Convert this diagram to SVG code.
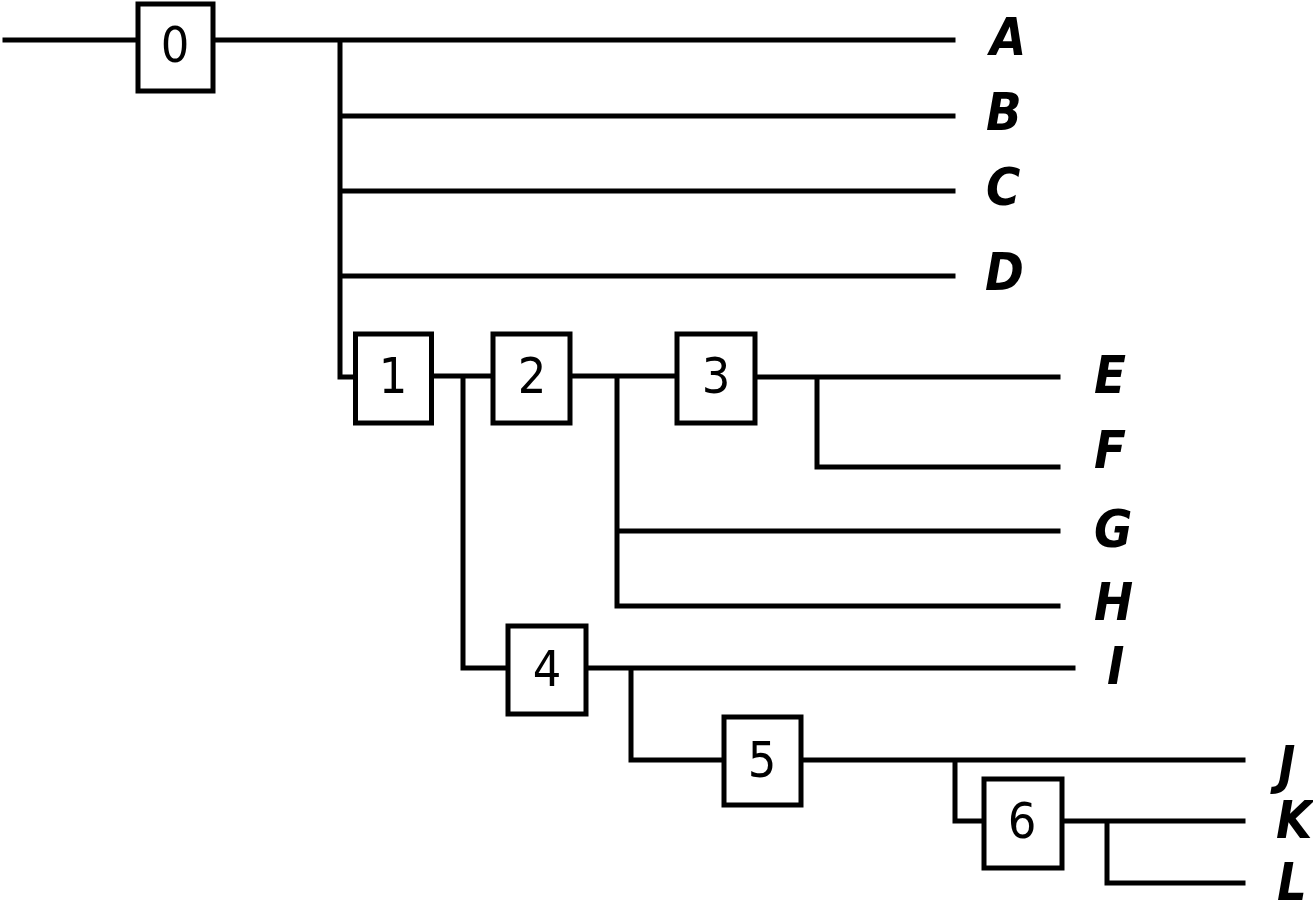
<svg xmlns="http://www.w3.org/2000/svg" width="1313" height="915" viewBox="0 0 1313 915">
<style>
.w{stroke:#000;stroke-width:5;fill:none;stroke-linecap:square}
.b{stroke:#000;stroke-width:5;fill:#fff}
.d{font-family:"DejaVu Sans Condensed","DejaVu Sans",sans-serif;font-stretch:condensed;font-size:50px;text-anchor:middle;fill:#000}
.l{font-family:"DejaVu Sans Condensed","DejaVu Sans",sans-serif;font-stretch:condensed;font-size:52px;font-weight:bold;font-style:italic;fill:#000}
</style>
<rect width="1313" height="915" fill="#fff"/>
<g id="connectors">
<path class="w" d="M5 40H138M213 40H953M340 40V377H355M340 116H953M340 191H953M340 276H953"/>
<path class="w" d="M432 376H493M463 380V668H507"/>
<path class="w" d="M571 376H677M617 378V606H1058M617 531H1058"/>
<path class="w" d="M755 377H1058M817 377V467H1058"/>
<path class="w" d="M587 668H1073M631 670V760H722"/>
<path class="w" d="M801 760H1243M955 760V821H983"/>
<path class="w" d="M1062 821H1243M1107 821V883H1243"/>
</g>
<g id="node0"><rect class="b" x="138" y="4" width="75" height="87"/><text class="d" x="175" y="62">0</text></g>
<g id="node1"><rect class="b" x="355.500" y="334" width="76" height="89"/><text class="d" x="393" y="393">1</text></g>
<g id="node2"><rect class="b" x="493" y="334" width="77" height="89"/><text class="d" x="532" y="393">2</text></g>
<g id="node3"><rect class="b" x="677" y="334" width="78" height="89"/><text class="d" x="716" y="393">3</text></g>
<g id="node4"><rect class="b" x="508" y="626" width="78" height="88"/><text class="d" x="547" y="686">4</text></g>
<g id="node5"><rect class="b" x="724" y="717" width="77" height="88"/><text class="d" x="762" y="777">5</text></g>
<g id="node6"><rect class="b" x="984" y="779" width="78" height="89"/><text class="d" x="1022" y="838">6</text></g>
<g id="labels">
<text class="l" x="990" y="55">A</text>
<text class="l" x="986" y="130">B</text>
<text class="l" x="986" y="205">C</text>
<text class="l" x="985" y="290">D</text>
<text class="l" x="1094" y="393">E</text>
<text class="l" x="1094" y="468">F</text>
<text class="l" x="1094" y="547">G</text>
<text class="l" x="1094" y="620">H</text>
<text class="l" x="1107" y="684">I</text>
<text class="l" x="1278" y="783">J</text>
<text class="l" x="1276" y="838">K</text>
<text class="l" x="1277" y="900">L</text>
</g>
</svg>
